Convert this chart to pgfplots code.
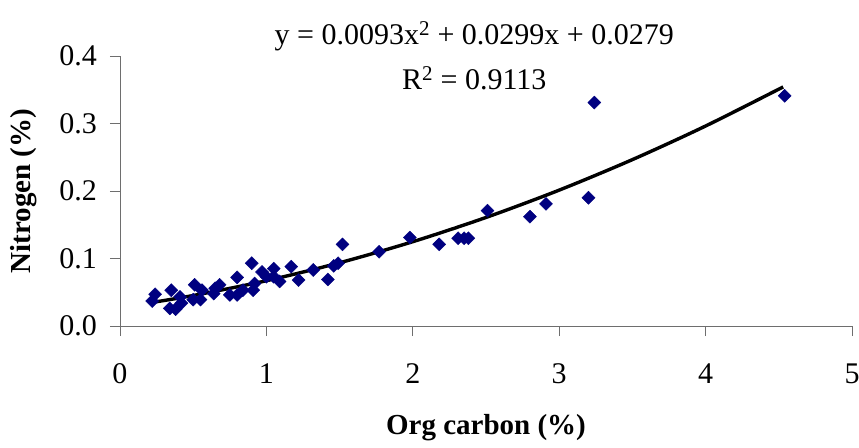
\documentclass[border=0pt]{standalone}
\usepackage{pgfplots}
\pgfplotsset{compat=1.18}
\usepackage{fontspec}
\setmainfont{Liberation Serif}
\definecolor{navy}{HTML}{000080}
\definecolor{axgray}{HTML}{6E6E6E}
\begin{document}
\begin{tikzpicture}[x=1pt,y=1pt]
\useasboundingbox (-120,-121) rectangle (739,326);
\begin{axis}[
  at={(0,0)}, anchor=south west,
  scale only axis, width=732pt, height=270pt,
  xmin=0, xmax=5, ymin=0, ymax=0.4,
  xtick={0,1,2,3,4,5}, ytick={0,0.1,0.2,0.3,0.4},
  axis x line=bottom, axis y line=left,
  axis line style={-, axgray, line width=0.8pt},
  tick style={axgray, line width=0.8pt},
  tick align=outside, major tick length=10pt,
  /pgf/number format/assume math mode=true,
  yticklabel style={/pgf/number format/.cd, fixed, fixed zerofill, precision=1, /tikz/.cd},
  ticklabel style={font=\fontsize{30}{36}\selectfont, inner sep=0pt},
  xticklabel style={anchor=center, yshift=-38pt},
  yticklabel style={anchor=east, xshift=-13pt},
  xlabel={Org carbon (\%)},
  ylabel={Nitrogen (\%)},
  label style={font=\fontsize{29}{34}\selectfont\bfseries},
  xlabel style={at={(axis description cs:0.5,0)}, anchor=center, yshift=-102pt},
  ylabel style={at={(axis description cs:-0.1311,0.5)}, anchor=center, rotate=0},
  clip=false,
]
\addplot[only marks, mark=square*, mark size=4.6pt, mark options={rotate=45, fill=navy, draw=navy}] coordinates {
(0.22,0.037) (0.24,0.047) (0.35,0.053) (0.34,0.026) (0.38,0.025)
(0.41,0.043) (0.42,0.034) (0.50,0.039) (0.51,0.061) (0.55,0.039)
(0.56,0.053) (0.64,0.048) (0.65,0.056) (0.68,0.061) (0.75,0.046)
(0.80,0.072) (0.80,0.046) (0.84,0.053) (0.90,0.093) (0.91,0.053)
(0.92,0.063) (0.97,0.080) (1.00,0.073) (1.05,0.085) (1.05,0.073)
(1.09,0.066) (1.17,0.088) (1.22,0.068) (1.32,0.083) (1.42,0.069)
(1.46,0.089) (1.49,0.093) (1.52,0.121) (1.77,0.110) (1.98,0.131)
(2.18,0.121) (2.31,0.130) (2.35,0.130) (2.38,0.130) (2.51,0.171)
(2.80,0.162) (2.91,0.181) (3.20,0.190) (3.24,0.331) (4.54,0.341)
};
\addplot[black, line width=3.4pt, smooth] coordinates {
(0.23,0.0353) (0.5,0.0452) (1.0,0.0671) (1.5,0.0937) (2.0,0.1249)
(2.5,0.1608) (3.0,0.2013) (3.5,0.2465) (4.0,0.2963) (4.53,0.3542)
};
\node[align=center, font=\fontsize{30}{45}\selectfont] at (axis cs:2.42,0.400)
  {y = 0.0093x\textsuperscript{2} + 0.0299x + 0.0279\\R\textsuperscript{2} = 0.9113};
\end{axis}
\end{tikzpicture}
\end{document}
